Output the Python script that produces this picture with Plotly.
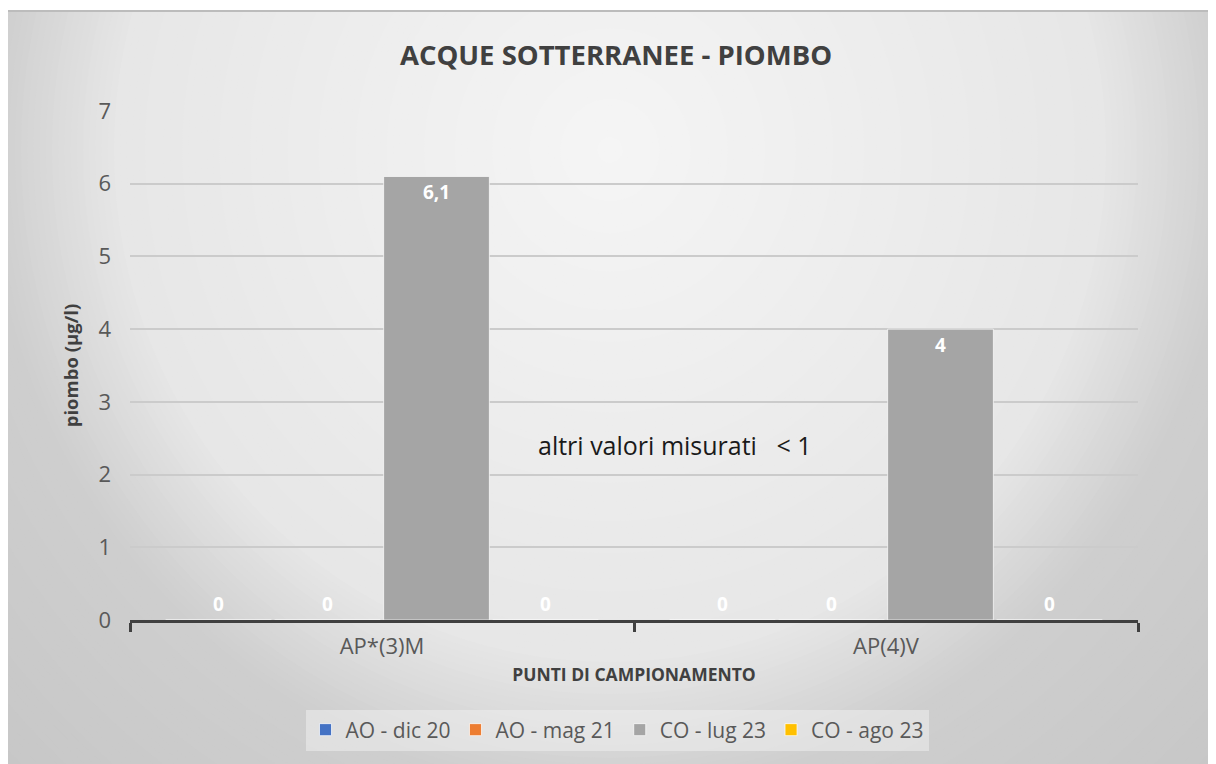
import plotly.graph_objects as go

categories = ["AP*(3)M", "AP(4)V"]
series_names = ["AO - dic 20", "AO - mag 21", "CO - lug 23", "CO - ago 23"]
ao_dic20 = [0, 0]
ao_mag21 = [0, 0]
co_lug23 = [6.1, 4]
co_ago23 = [0, 0]
series_values = [ao_dic20, ao_mag21, co_lug23, co_ago23]
series_colors = ["#4472c4", "#ed7d31", "#a5a5a5", "#ffc000"]

title_text = "ACQUE SOTTERRANEE - PIOMBO"
y_title = "piombo (µg/l)"
x_title = "PUNTI DI CAMPIONAMENTO"
note_text = "altri valori misurati   &lt; 1"

FONT = "Open Sans"
OFF = 8  # page body margin
W, H = 1216 - OFF, 764 - OFF
ML, MR, MT, MB = 130 - OFF, 78, 111 - OFF, 144
PW, PH = W - ML - MR, H - MT - MB


def fx(px):
    """screen x (reference pixels) -> paper fraction"""
    return (px - OFF - ML) / PW


def fy(py):
    """screen y (reference pixels) -> paper fraction"""
    return (H - MB - (py - OFF)) / PH


fig = go.Figure()
for name, vals, col in zip(series_names, series_values, series_colors):
    labels = [f"{v:g}".replace(".", ",") for v in vals]
    fig.add_trace(go.Bar(
        name=name, x=categories, y=vals,
        marker=dict(color=col, line=dict(color="rgba(255,255,255,0.7)", width=1)),
        text=labels,
        textposition=["inside" if v > 0 else "outside" for v in vals],
        insidetextanchor="end",
        textfont=dict(family=FONT, size=19, color="white", weight="bold"),
        outsidetextfont=dict(family=FONT, size=19, color="white", weight="bold"),
        cliponaxis=False,
    ))

# background radial gradient
shapes = []
cx, cy, sx, sy = 610, 150, 620, 640


def shade(r):
    if r < 0.8:
        return 245 - 18 * r
    if r < 1.0:
        return 230.6 - (r - 0.8) * 120
    return max(190, 206.6 - (r - 1.0) * 20)


steps = 150
rmax = 1.5
for i in range(steps):
    r = rmax * (steps - i) / steps
    c = shade(r)
    shapes.append(dict(type="circle", xref="paper", yref="paper", layer="below",
                       x0=fx(cx - r * sx), x1=fx(cx + r * sx),
                       y0=fy(cy + r * sy), y1=fy(cy - r * sy),
                       fillcolor=f"rgb({c:.2f},{c:.2f},{c:.2f})", line=dict(width=0)))
# white strip above the chart frame
shapes.append(dict(type="rect", xref="paper", yref="paper", layer="below",
                   x0=fx(-20), x1=fx(1240), y0=fy(10), y1=fy(-20),
                   fillcolor="white", line=dict(width=0)))
shapes.append(dict(type="line", xref="paper", yref="paper", layer="below",
                   x0=fx(8), x1=fx(1216), y0=fy(11), y1=fy(11),
                   line=dict(color="#bcbcbc", width=2)))

fig.update_layout(
    width=W, height=H,
    margin=dict(l=ML, r=MR, t=MT, b=MB),
    paper_bgcolor="white", plot_bgcolor="rgba(0,0,0,0)",
    barmode="group", bargap=0.135, bargroupgap=0.03,
    separators=",.",
    font=dict(family=FONT, color="#595959"),
    title=dict(text=title_text, x=fx(616), xref="paper", xanchor="center",
               y=1 - (55 - OFF) / H, yanchor="middle",
               font=dict(family=FONT, size=27.5, color="#404040", weight="bold")),
    shapes=shapes,
    legend=dict(orientation="h", x=fx(617), xanchor="center", y=fy(730), yanchor="middle",
                bgcolor="rgba(238,238,238,0.55)", borderwidth=0,
                font=dict(family=FONT, size=21, color="#595959"),
                itemclick=False, itemdoubleclick=False),
    annotations=[dict(text=note_text, x=fx(675), xref="paper", y=2.4, yref="y",
                      showarrow=False, font=dict(family=FONT, size=25, color="#1a1a1a"))],
    xaxis=dict(type="category", showline=True, linecolor="#404040", linewidth=3,
               ticks="outside", ticklen=9, tickwidth=3, tickcolor="#404040",
               tickson="boundaries", showgrid=False, ticklabelstandoff=5,
               tickfont=dict(family=FONT, size=22, color="#595959"),
               title=dict(text=x_title, standoff=10,
                          font=dict(family=FONT, size=17.5, color="#404040", weight="bold"))),
    yaxis=dict(range=[0, 7], dtick=1, showgrid=True, gridcolor="#cbcbcb", gridwidth=2,
               zeroline=False, showline=False, ticks="", ticklabelstandoff=18,
               tickfont=dict(family=FONT, size=22, color="#595959"),
               title=dict(text=y_title, standoff=14,
                          font=dict(family=FONT, size=18.5, color="#404040", weight="bold"))),
)

fig.write_html("out.html")
